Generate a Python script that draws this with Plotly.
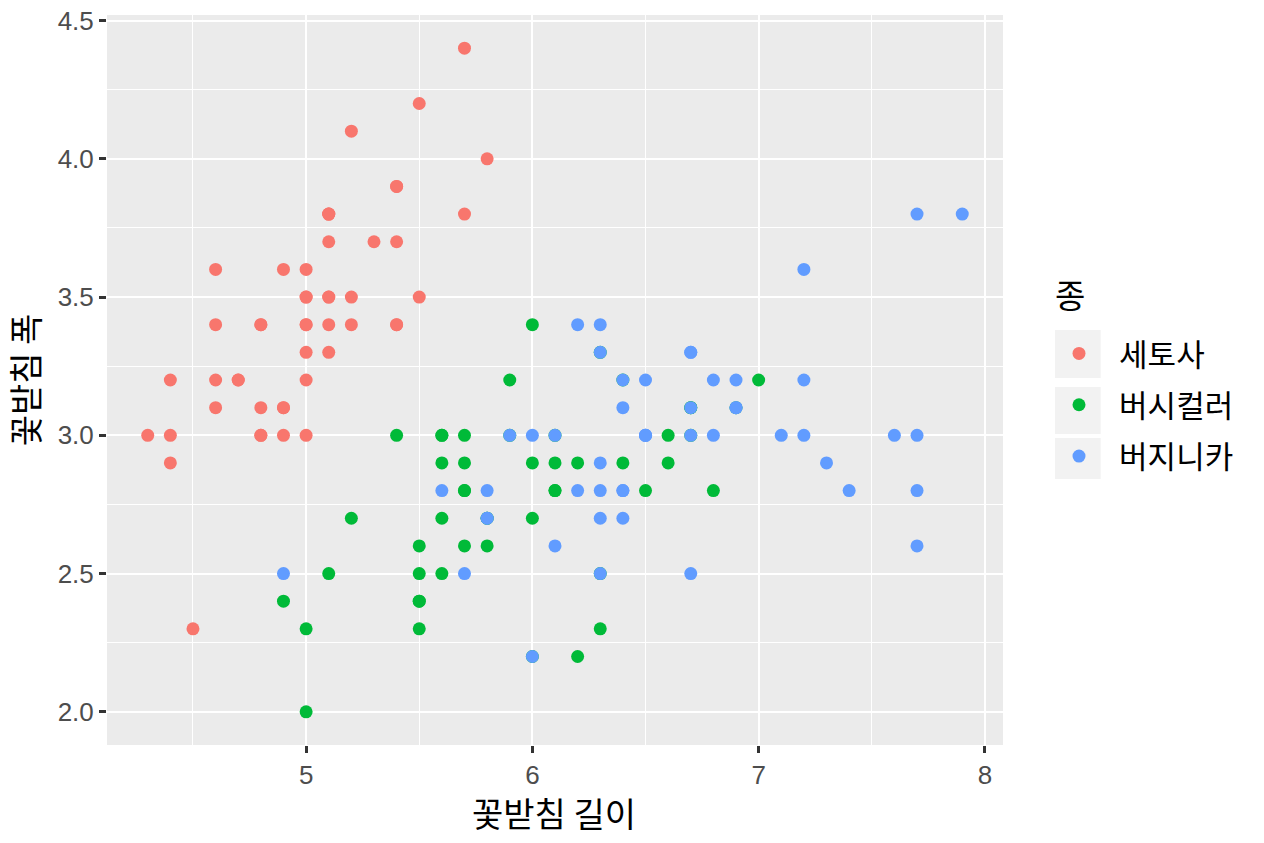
import plotly.graph_objects as go

# iris 꽃받침 데이터 (길이, 폭)
setosa_len = [5.1, 4.9, 4.7, 4.6, 5.0, 5.4, 4.6, 5.0, 4.4, 4.9, 5.4, 4.8, 4.8, 4.3, 5.8, 5.7, 5.4, 5.1, 5.7, 5.1,
              5.4, 5.1, 4.6, 5.1, 4.8, 5.0, 5.0, 5.2, 5.2, 4.7, 4.8, 5.4, 5.2, 5.5, 4.9, 5.0, 5.5, 4.9, 4.4, 5.1,
              5.0, 4.5, 4.4, 5.0, 5.1, 4.8, 5.1, 4.6, 5.3, 5.0]
setosa_wid = [3.5, 3.0, 3.2, 3.1, 3.6, 3.9, 3.4, 3.4, 2.9, 3.1, 3.7, 3.4, 3.0, 3.0, 4.0, 4.4, 3.9, 3.5, 3.8, 3.8,
              3.4, 3.7, 3.6, 3.3, 3.4, 3.0, 3.4, 3.5, 3.4, 3.2, 3.1, 3.4, 4.1, 4.2, 3.1, 3.2, 3.5, 3.6, 3.0, 3.4,
              3.5, 2.3, 3.2, 3.5, 3.8, 3.0, 3.8, 3.2, 3.7, 3.3]
versi_len = [7.0, 6.4, 6.9, 5.5, 6.5, 5.7, 6.3, 4.9, 6.6, 5.2, 5.0, 5.9, 6.0, 6.1, 5.6, 6.7, 5.6, 5.8, 6.2, 5.6,
             5.9, 6.1, 6.3, 6.1, 6.4, 6.6, 6.8, 6.7, 6.0, 5.7, 5.5, 5.5, 5.8, 6.0, 5.4, 6.0, 6.7, 6.3, 5.6, 5.5,
             5.5, 6.1, 5.8, 5.0, 5.6, 5.7, 5.7, 6.2, 5.1, 5.7]
versi_wid = [3.2, 3.2, 3.1, 2.3, 2.8, 2.8, 3.3, 2.4, 2.9, 2.7, 2.0, 3.0, 2.2, 2.9, 2.9, 3.1, 3.0, 2.7, 2.2, 2.5,
             3.2, 2.8, 2.5, 2.8, 2.9, 3.0, 2.8, 3.0, 2.9, 2.6, 2.4, 2.4, 2.7, 2.7, 3.0, 3.4, 3.1, 2.3, 3.0, 2.5,
             2.6, 3.0, 2.6, 2.3, 2.7, 3.0, 2.9, 2.9, 2.5, 2.8]
virg_len = [6.3, 5.8, 7.1, 6.3, 6.5, 7.6, 4.9, 7.3, 6.7, 7.2, 6.5, 6.4, 6.8, 5.7, 5.8, 6.4, 6.5, 7.7, 7.7, 6.0,
            6.9, 5.6, 7.7, 6.3, 6.7, 7.2, 6.2, 6.1, 6.4, 7.2, 7.4, 7.9, 6.4, 6.3, 6.1, 7.7, 6.3, 6.4, 6.0, 6.9,
            6.7, 6.9, 5.8, 6.8, 6.7, 6.7, 6.3, 6.5, 6.2, 5.9]
virg_wid = [3.3, 2.7, 3.0, 2.9, 3.0, 3.0, 2.5, 2.9, 2.5, 3.6, 3.2, 2.7, 3.0, 2.5, 2.8, 3.2, 3.0, 3.8, 2.6, 2.2,
            3.2, 2.8, 2.8, 2.7, 3.3, 3.2, 2.8, 3.0, 2.8, 3.0, 2.8, 3.8, 2.8, 2.8, 2.6, 3.0, 3.4, 3.1, 3.0, 3.1,
            3.1, 3.1, 2.7, 3.2, 3.3, 3.0, 2.5, 3.0, 3.4, 3.0]

species = ["세토사", "버시컬러", "버지니카"]
colors = ["#F8766D", "#00BA38", "#619CFF"]
x_ticks = [5, 6, 7, 8]
y_ticks = [2.0, 2.5, 3.0, 3.5, 4.0, 4.5]

KFONT = "Noto Sans CJK KR"

fig = go.Figure()
for name, xs, ys, col in zip(species, [setosa_len, versi_len, virg_len],
                             [setosa_wid, versi_wid, virg_wid], colors):
    fig.add_trace(go.Scatter(x=xs, y=ys, mode="markers", name="\u00a0\u00a0\u2009" + name, legendgroup=name,
                             marker=dict(color=col, size=13, line=dict(width=0))))

# 범례 키 배경 (ggplot 회색 상자)
key_boxes = [(0.5685, 0.5027), (0.4904, 0.4260), (0.4205, 0.3644)]
for y1, y0 in key_boxes:
    fig.add_shape(type="rect", xref="paper", yref="paper", x0=1.058, x1=1.109, y0=y0, y1=y1,
                  fillcolor="#F2F2F2", line_width=0)

axis_common = dict(showline=False, zeroline=False, automargin=False,
                   gridcolor="white", gridwidth=2.4,
                   minor=dict(showgrid=True, gridcolor="white", gridwidth=1.2),
                   ticks="outside", ticklen=7, tickwidth=2.8, tickcolor="#333333",
                   tickfont=dict(family="Liberation Sans, Arial", size=26, color="#4D4D4D"))

fig.update_xaxes(range=[4.12, 8.08], tickvals=x_ticks, ticktext=[str(v) for v in x_ticks],
                 minor_tickvals=[4.5, 5.5, 6.5, 7.5], **axis_common)
fig.update_yaxes(range=[1.88, 4.52], tickvals=y_ticks, ticktext=[f"{v:.1f}" for v in y_ticks],
                 minor_tickvals=[2.25, 2.75, 3.25, 3.75, 4.25],
                 title=dict(text="꽃받침 폭", font=dict(family=KFONT, size=34, color="black"), standoff=12),
                 **axis_common)

# x축 제목과 범례 제목
fig.add_annotation(text="꽃받침 길이", xref="paper", yref="paper", x=0.499, y=-0.092,
                   xanchor="center", yanchor="middle", showarrow=False,
                   font=dict(family=KFONT, size=34, color="black"))
fig.add_annotation(text="종", xref="paper", yref="paper", x=1.056, y=0.618,
                   xanchor="left", yanchor="middle", showarrow=False,
                   font=dict(family=KFONT, size=33, color="black"))

fig.update_layout(
    width=1264, height=843,
    margin=dict(l=107, r=261, t=15, b=98),
    plot_bgcolor="#EBEBEB", paper_bgcolor="white",
    legend=dict(font=dict(family=KFONT, size=31, color="black"),
                x=1.0625, xanchor="left", y=0.466, yanchor="middle",
                tracegroupgap=8, itemsizing="trace", bgcolor="rgba(0,0,0,0)"),
    showlegend=True,
)

fig.write_html("out.html", config={"displayModeBar": False},
               post_script="document.body.style.margin='0';")
